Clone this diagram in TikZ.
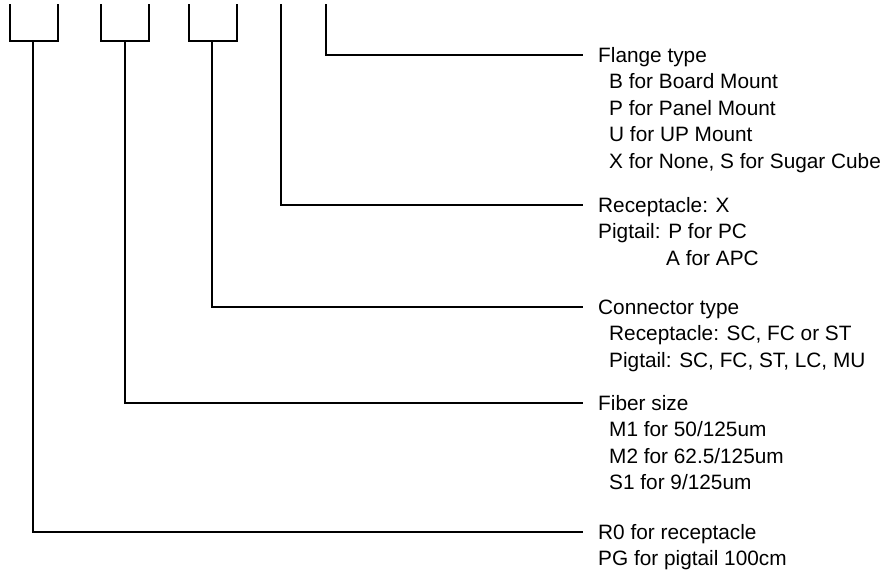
\documentclass[tikz,border=0pt]{standalone}
\usepackage{fontspec}
\setmainfont{Liberation Sans}
\usepackage{tikz}
\usetikzlibrary{positioning}

\begin{document}
\begin{tikzpicture}[
    x=1pt, y=-1pt,
    font=\fontsize{20.8}{26}\selectfont,
    line/.style={line width=1.4pt, draw=black},
    head/.style={anchor=west, inner xsep=15pt, inner ysep=0pt, text height=15pt, text depth=0pt},
    item/.style={inner sep=0pt, text height=15pt, text depth=0pt}
]
\useasboundingbox (0,0) rectangle (890,571);

% field marks along the top
\draw[line] (10,4) |- (58,41) -- (58,4);
\draw[line] (101,4) |- (149,41) -- (149,4);
\draw[line] (189,4) |- (237,41) -- (237,4);
\coordinate (kind) at (33,41);
\coordinate (size) at (125,41);
\coordinate (conn) at (212,41);
\coordinate (polish) at (281,4);
\coordinate (flange) at (326,4);

% flange type
\node[head] (flangeHd) at (583,55) {Flange type};
\node[item, below right=11pt and 26pt of flangeHd.south west] (flangeB) {B for Board Mount};
\node[item, below right=11pt and 0pt of flangeB.south west] (flangeP) {P for Panel Mount};
\node[item, below right=11pt and 0pt of flangeP.south west] (flangeU) {U for UP Mount};
\node[item, below right=11pt and 0pt of flangeU.south west] (flangeX) {X for None, S for Sugar Cube};

% polish
\node[head] (polishHd) at (583,205) {Receptacle: X};
\node[item, below right=11pt and 15pt of polishHd.south west] (polishP) {Pigtail: P for PC};
\node[item, below right=11pt and 68pt of polishP.south west] (polishA) {A for APC};

% connector type
\node[head] (connHd) at (583,307) {Connector type};
\node[item, below right=11pt and 26pt of connHd.south west] (connR) {Receptacle: SC, FC or ST};
\node[item, below right=11pt and 0pt of connR.south west] (connP) {Pigtail: SC, FC, ST, LC, MU};

% fiber size
\node[head] (sizeHd) at (583,403) {Fiber size};
\node[item, below right=11pt and 26pt of sizeHd.south west] (sizeM1) {M1 for 50/125um};
\node[item, below right=11pt and 0pt of sizeM1.south west] (sizeM2) {M2 for 62.5/125um};
\node[item, below right=11pt and 0pt of sizeM2.south west] (sizeS1) {S1 for 9/125um};

% receptacle or pigtail
\node[head] (kindHd) at (583,532) {R0 for receptacle};
\node[item, below right=11pt and 15pt of kindHd.south west] (kindPG) {PG for pigtail 100cm};

\draw[line] (flange) |- (flangeHd.west);
\draw[line] (polish) |- (polishHd.west);
\draw[line] (conn) |- (connHd.west);
\draw[line] (size) |- (sizeHd.west);
\draw[line] (kind) |- (kindHd.west);
\end{tikzpicture}
\end{document}
